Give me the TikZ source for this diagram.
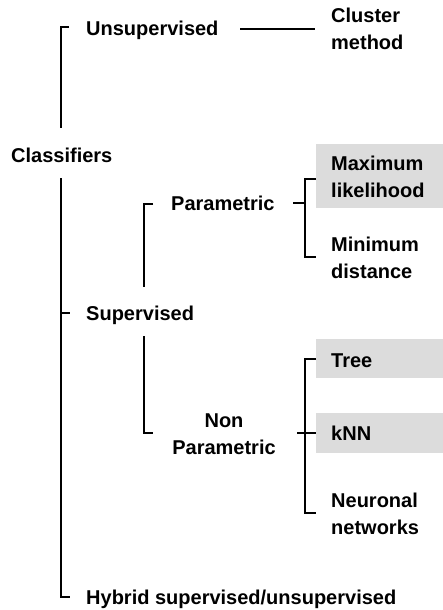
\documentclass[tikz,border=0pt]{standalone}
\usepackage{fontspec}
\setmainfont{Liberation Sans}
\definecolor{boxgray}{HTML}{DCDCDC}
\begin{document}
\begin{tikzpicture}[x=1pt,y=-1pt,
  lbl/.style={font=\fontsize{20}{26.5}\selectfont\bfseries, inner sep=0pt, align=left, anchor=base west},
  gbox/.style={fill=boxgray, inner sep=0pt, anchor=north west},
  link/.style={line width=1.8pt}]
\useasboundingbox (0,0) rectangle (443,610);
% gray boxes
\node[gbox, minimum width=140pt, minimum height=64pt] (mlbox) at (316,144) {};
\node[gbox, minimum width=140pt, minimum height=39pt] (treebox) at (316,339) {};
\node[gbox, minimum width=140pt, minimum height=40pt] (knnbox) at (316,413) {};
% labels (base = baseline of the last line)
\node[lbl] (uns) at (86,36) {Unsupervised};
\node[lbl] (clu) at (331,49) {Cluster\\method};
\node[lbl] (cls) at (11,162) {Classifiers};
\node[lbl] (ml) at (331,197) {Maximum\\likelihood};
\node[lbl] (par) at (171,210) {Parametric};
\node[lbl] (mind) at (331,278) {Minimum\\distance};
\node[lbl] (sup) at (86,320) {Supervised};
\node[lbl, align=center, anchor=base] (npar) at (224,454) {Non\\Parametric};
\node[lbl] (tree) at (331,367) {Tree};
\node[lbl] (knn) at (331,440) {kNN};
\node[lbl] (neur) at (331,534) {Neuronal\\networks};
\node[lbl] (hyb) at (86,604) {Hybrid supervised/unsupervised};
% connector ends and elbows
\coordinate (uT) at (69,27);  \coordinate (c1) at (61,27);  \coordinate (c2) at (61,128);
\coordinate (c3) at (61,178); \coordinate (c4) at (61,597); \coordinate (hT) at (70,597);
\coordinate (s0) at (61,313); \coordinate (sT) at (70,313);
\coordinate (uE) at (240,29); \coordinate (cW) at (315,29);
\coordinate (pT) at (153,204); \coordinate (p1) at (144,204); \coordinate (p2) at (144,287);
\coordinate (n1) at (144,336); \coordinate (n2) at (144,433); \coordinate (nT) at (153,433);
\coordinate (pE) at (293,203);
\coordinate (m1) at (305,179); \coordinate (m2) at (305,257);
\coordinate (t1) at (305,359); \coordinate (t2) at (305,513);
\coordinate (npE) at (297,433);
% connectors
\draw[link] (uT) -- (c1) -- (c2);
\draw[link] (c3) -- (c4) -- (hT);
\draw[link] (s0) -- (sT);
\draw[link] (uE) -- (cW);
\draw[link] (pT) -- (p1) -- (p2);
\draw[link] (n1) -- (n2) -- (nT);
\draw[link] (pE) -- (pE -| m1);
\draw[link] (mlbox.west |- m1) -- (m1) -- (m2) -- (mlbox.west |- m2);
\draw[link] (treebox.west |- t1) -- (t1) -- (t2) -- (treebox.west |- t2);
\draw[link] (npE) -- (knnbox.west |- npE);
\end{tikzpicture}
\end{document}
